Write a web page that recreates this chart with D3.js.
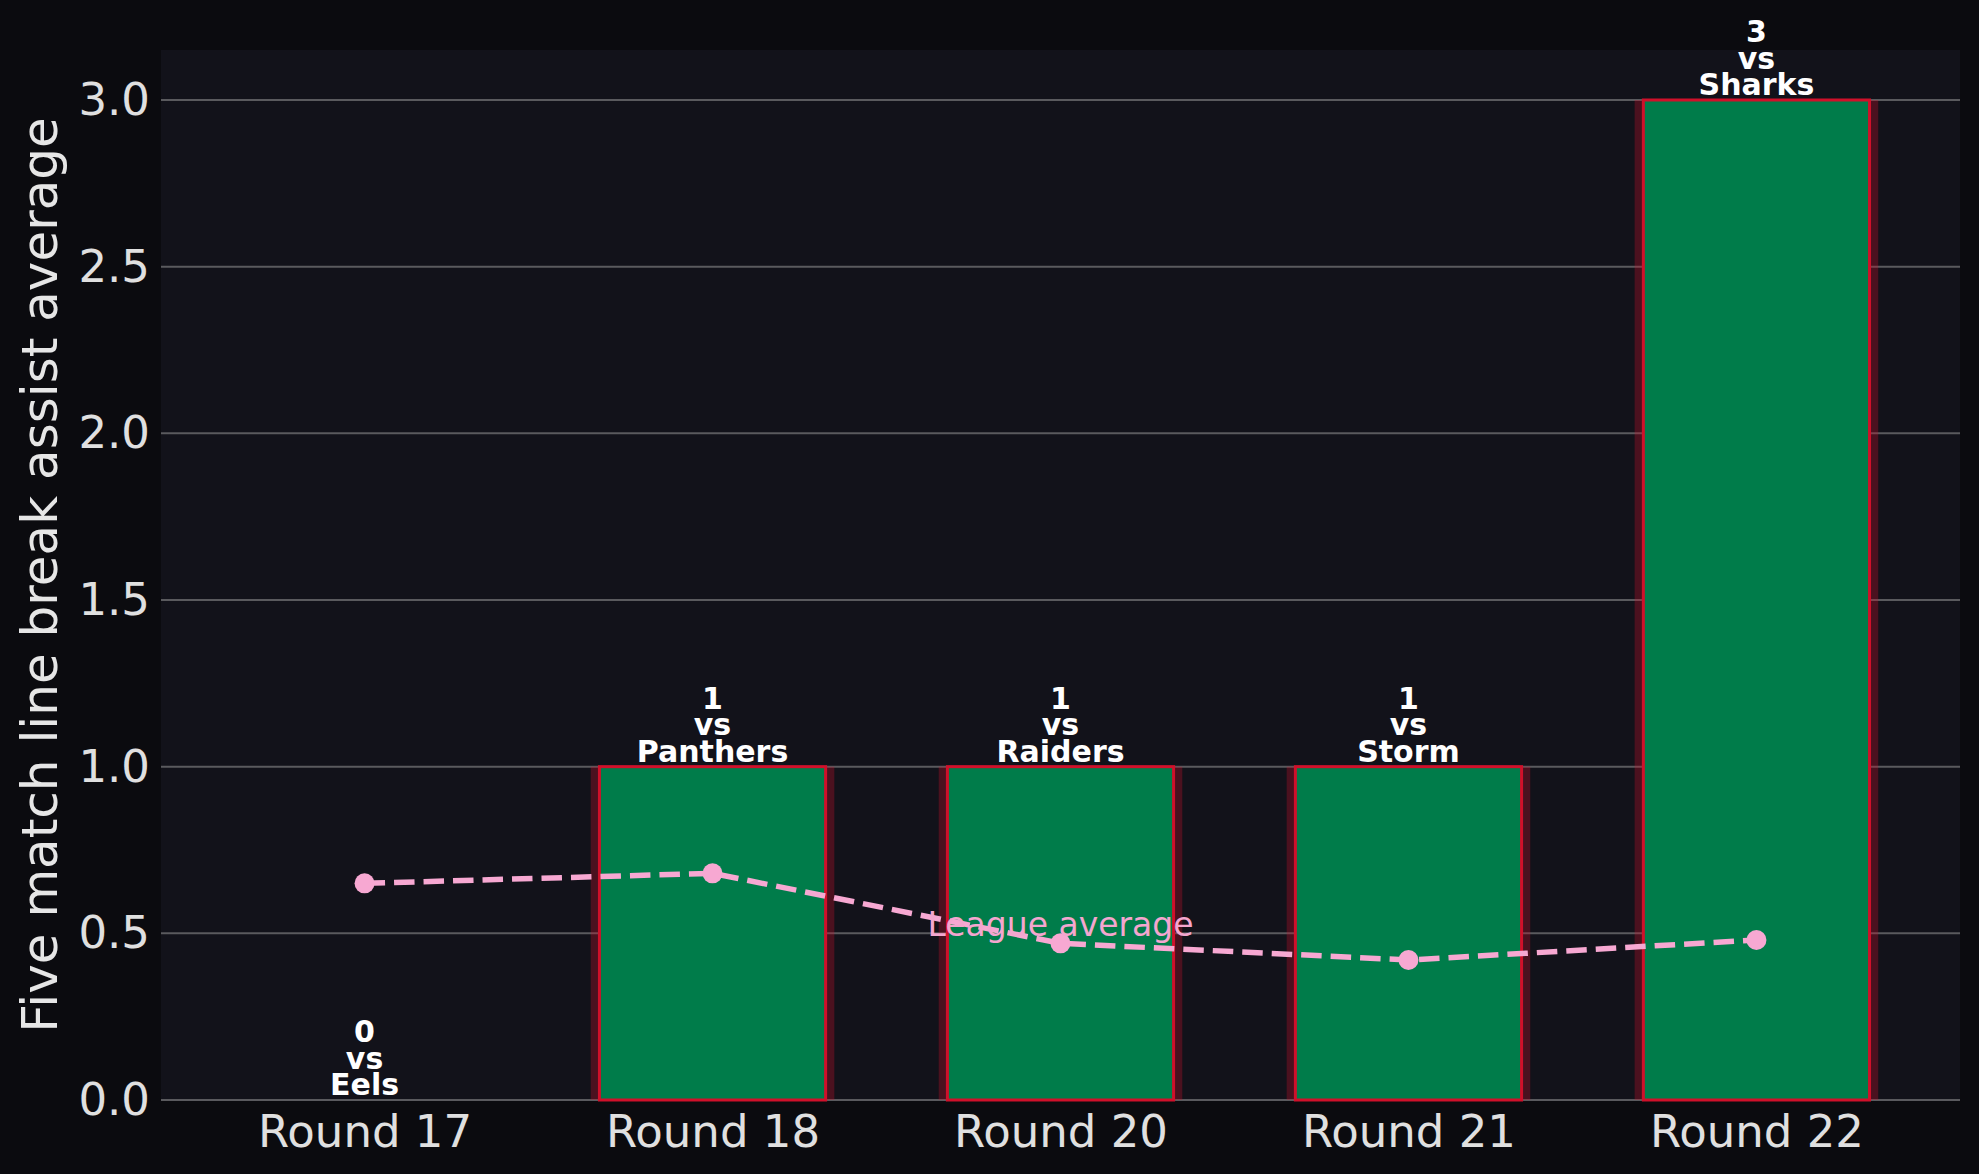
<!DOCTYPE html>
<html>
<head>
<meta charset="utf-8">
<script src="https://cdn.jsdelivr.net/npm/d3@7"></script>
<style>
  html, body { margin: 0; padding: 0; background: #0b0b0f; }
  svg { display: block; }
  text { font-family: "DejaVu Sans", sans-serif; }
</style>
</head>
<body>
<svg id="chart"></svg>
<script>
// Datos del gráfico
const rounds = ['Round 17', 'Round 18', 'Round 20', 'Round 21', 'Round 22'];
const opponents = ['Eels', 'Panthers', 'Raiders', 'Storm', 'Sharks'];
const assists = [0, 1, 1, 1, 3];
const leagueAvg = [0.65, 0.68, 0.47, 0.42, 0.48];
const yTicks = [0, 0.5, 1, 1.5, 2, 2.5, 3];

const W = 1979, H = 1174;
const margin = {top: 50, right: 19, bottom: 74, left: 161};
const innerW = W - margin.left - margin.right;
const innerH = H - margin.top - margin.bottom;

const svg = d3.select('#chart').attr('width', W).attr('height', H);

svg.append('rect').attr('width', W).attr('height', H).attr('fill', '#0b0b0f');

const g = svg.append('g').attr('transform', `translate(${margin.left},${margin.top})`);

g.append('rect').attr('width', innerW).attr('height', innerH).attr('fill', '#12121a');

// Escalas: ancho de barra 0.7 con margen del 5%
const x = d3.scaleLinear().domain([-0.585, 4.585]).range([0, innerW]);
const y = d3.scaleLinear().domain([0, 3.15]).range([innerH, 0]);
const unit = x(1) - x(0);

// Rejilla horizontal
g.selectAll('.grid')
  .data(yTicks)
  .enter()
  .append('line')
  .attr('x1', 0).attr('x2', innerW)
  .attr('y1', d => y(d)).attr('y2', d => y(d))
  .attr('stroke', '#5a5a5e')
  .attr('stroke-width', 2);

// Sombra de las barras
g.selectAll('.shadow')
  .data(assists)
  .enter()
  .append('rect')
  .attr('x', (d, i) => x(i) - unit * 0.35)
  .attr('width', unit * 0.7)
  .attr('y', d => y(d))
  .attr('height', d => y(0) - y(d))
  .attr('fill', '#d0102a')
  .attr('fill-opacity', 0.3);

// Barras principales
g.selectAll('.bar')
  .data(assists)
  .enter()
  .append('rect')
  .attr('x', (d, i) => x(i) - unit * 0.325)
  .attr('width', unit * 0.65)
  .attr('y', d => y(d))
  .attr('height', d => y(0) - y(d))
  .attr('fill', '#007c4a')
  .attr('stroke', '#d0102a')
  .attr('stroke-width', 3);

// Línea de la media de la liga
const line = d3.line()
  .x((d, i) => x(i))
  .y(d => y(d));

g.append('path')
  .datum(leagueAvg)
  .attr('d', line)
  .attr('fill', 'none')
  .attr('stroke', '#f7a8d2')
  .attr('stroke-width', 5.5)
  .attr('stroke-dasharray', '20.5 9');

g.selectAll('.dot')
  .data(leagueAvg)
  .enter()
  .append('circle')
  .attr('cx', (d, i) => x(i))
  .attr('cy', d => y(d))
  .attr('r', 10)
  .attr('fill', '#f7a8d2');

g.append('text')
  .attr('x', x(2))
  .attr('y', y(leagueAvg[2]) - 7)
  .attr('text-anchor', 'middle')
  .attr('font-size', 33)
  .attr('fill', '#f4a6cf')
  .text('League average');

// Etiquetas de las barras
const labels = g.selectAll('.label')
  .data(assists)
  .enter()
  .append('text')
  .attr('text-anchor', 'middle')
  .attr('font-size', 30)
  .attr('font-weight', 'bold')
  .attr('fill', '#ffffff');

labels.each(function (d, i) {
  const t = d3.select(this);
  const lines = [String(d), 'vs', opponents[i]];
  lines.forEach((s, k) => {
    t.append('tspan')
      .attr('x', x(i))
      .attr('y', y(d) - 5 - (2 - k) * 26.3)
      .text(s);
  });
});

// Ejes
const xAxis = g.append('g')
  .attr('transform', `translate(0,${innerH})`)
  .call(d3.axisBottom(x).tickValues(d3.range(rounds.length)).tickFormat(i => rounds[i]).tickSize(0).tickPadding(15));

const yAxis = g.append('g')
  .call(d3.axisLeft(y).tickValues(yTicks).tickFormat(d3.format('.1f')).tickSize(0).tickPadding(11));

[xAxis, yAxis].forEach(a => {
  a.select('.domain').remove();
  a.selectAll('text')
    .attr('font-size', 45)
    .attr('font-family', '"DejaVu Sans", sans-serif')
    .attr('fill', '#e0e0e0');
});

svg.append('text')
  .attr('transform', `translate(57,${margin.top + innerH / 2}) rotate(-90)`)
  .attr('text-anchor', 'middle')
  .attr('font-size', 50)
  .attr('fill', '#e6e6e6')
  .text('Five match line break assist average');
</script>
</body>
</html>
